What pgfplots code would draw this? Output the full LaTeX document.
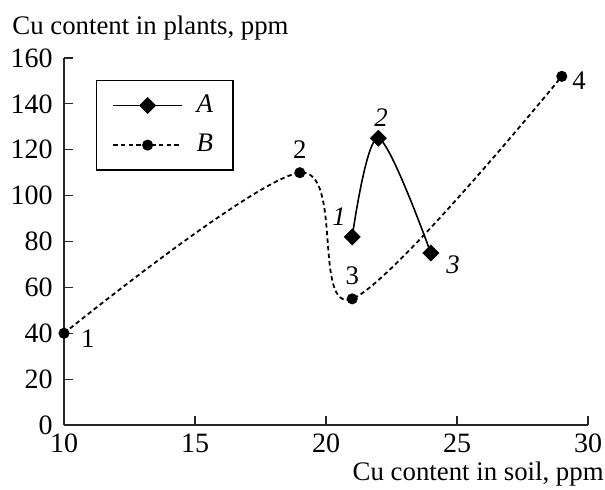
\documentclass[border=0pt]{standalone}
\usepackage{fontspec}
\setmainfont{Liberation Serif}
\usepackage{pgfplots}
\pgfplotsset{compat=1.18}
\begin{document}
\fontsize{13.4}{16}\selectfont
\begin{tikzpicture}
\begin{axis}[
  scale only axis,
  width=262pt, height=183.5pt,
  xmin=10, xmax=30, ymin=0, ymax=160,
  xtick={10,15,20,25,30},
  ytick={0,20,...,160},
  axis lines=left,
  axis line style={-, line width=0.8pt, black!85},
  tick align=inside,
  major tick length=4.5pt,
  tick style={line width=0.6pt, black!85},
  /pgf/number format/assume math mode=true,
  ticklabel style={font=\fontsize{14}{16}\selectfont},
  yticklabel style={xshift=-1pt},
  legend style={at={(rel axis cs:0.061,0.94)}, anchor=north west,
    draw=black, line width=0.6pt, font=\fontsize{13.4}{16}\selectfont\itshape,
    row sep=5pt, inner xsep=8pt, inner ysep=5pt,
    /tikz/every odd column/.append style={column sep=5pt}},
  legend cell align=left,
  legend image code/.code={
    \draw[#1] (0cm,0cm) -- (1.2cm,0cm);
    \draw[#1, only marks] plot coordinates {(0.6cm,0cm)};
  },
  clip=false,
]
\addplot[black, line width=0.8pt, smooth, tension=0.55,
  mark=square*, mark size=2.6pt, mark options={rotate=45, solid}]
  coordinates {(21,82) (22,125) (24,75)};
\addlegendentry{A}
\addplot[black, line width=0.9pt, dash pattern=on 2.2pt off 1.6pt, smooth, tension=0.55,
  mark=*, mark size=2.3pt, mark options={solid}]
  coordinates {(10,40) (19,110) (21,55) (29,152)};
\addlegendentry{B}
% point labels
\node[anchor=west] at (axis cs:10.3,37.5) {1};
\node[anchor=south] at (axis cs:19,112) {2};
\node[anchor=south] at (axis cs:21,57) {3};
\node[anchor=west] at (axis cs:29.05,150) {4};
\node[font=\fontsize{13.4}{16}\selectfont\itshape] at (axis cs:20.5,91) {1};
\node[font=\fontsize{13.4}{16}\selectfont\itshape] at (axis cs:22.1,134) {2};
\node[font=\fontsize{13.4}{16}\selectfont\itshape] at (axis cs:24.85,70) {3};
\end{axis}
\node[anchor=base west, inner sep=0pt] at (-26pt,195.5pt) {Cu content in plants, ppm};
\node[anchor=base east, inner sep=0pt] at (270pt,-27.5pt) {Cu content in soil, ppm};
\pgfresetboundingbox
\useasboundingbox (-32pt,-32pt) rectangle (270.5pt,212.5pt);
\end{tikzpicture}
\end{document}
